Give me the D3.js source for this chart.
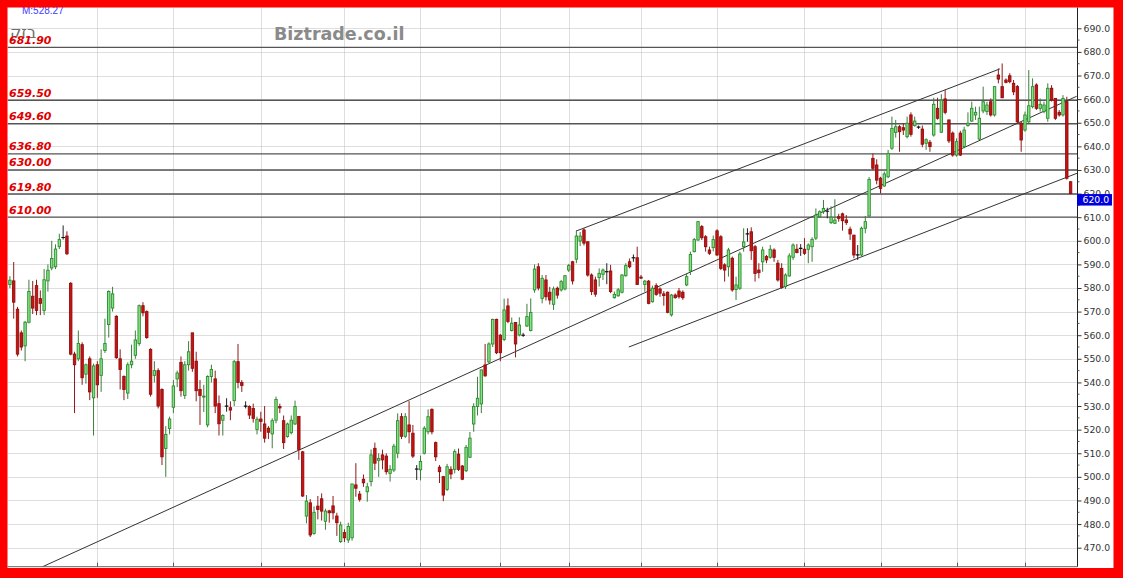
<!DOCTYPE html>
<html><head><meta charset="utf-8">
<script src="https://cdn.jsdelivr.net/npm/d3@7"></script>
<style>html,body{margin:0;padding:0;background:#fff;overflow:hidden}</style>
</head><body><svg id="c" width="1123" height="578"></svg>
<script>
// ---------- DATA ----------
const opens=[
581.5,583,571,561,555.5,565.5,576.5,581,575.5,570.5,
583,588.5,589,597.5,601.4,602,582,552,550,556,
543.5,550,533.5,547.5,543,553.5,564.5,571.5,568,550,
542.5,535.5,547.5,551.5,556.5,572.5,570,554,543,545,
537,512,520.5,529.5,541.5,548.5,534.5,547.5,561,549,
537,533.8,522,542.5,541.5,531,524,530,529.3,532.3,
548.8,540,530,529.8,529,520.1,524.5,522.4,520.6,518.2,
524,529.8,523.8,517.1,518.7,522.4,525.6,510.6,483.4,489,
476,487.6,490.7,481.2,485.6,487.7,483.4,472.6,476.4,473.3,
474.2,496.6,492.7,499,493.7,498,512.1,507,509.3,508.8,
501.5,502.9,510,525.5,517.2,522,518.5,503.3,503,510,
519.1,528.6,514.5,504.1,500.1,494.7,503.2,503.2,509.6,504.6,
502.6,508.3,522.4,529.8,530.9,547.4,548.7,556.3,566.7,560,
558.2,572.4,562,565.4,560.1,560,563.9,562,579.2,589,
575.6,583.4,578.2,573.1,579.9,579.2,579.6,587.6,591.1,592.2,
599.9,604.6,599.6,585.5,583.4,584.4,585.8,586.9,587.2,575.9,
576.7,578.2,585.2,591.1,592.8,592.8,584.6,581.5,582.9,574.2,
581,579.6,577.5,578.2,568.6,577,578.7,578.2,581.3,587.2,
595.4,600.3,606,601.7,596.1,597.1,604.2,601.7,589.8,589,
592.6,579.4,579.9,597.5,602.9,603.8,597.5,587.6,591.1,593.3,
593,596.1,590.5,588.3,580.6,585.1,593,596.4,596.8,596.4,
596.4,597.5,601.1,610.2,612.3,612.5,607.7,607.4,610.2,611.4,
608.8,604.9,602.4,594,594,605.3,610.5,634.9,632.1,626.5,
623.2,627.1,639.2,645.9,648.3,647.9,644.1,653.3,648.8,648.1,
647.3,641.3,641.7,644.8,656.1,646,660.1,651.2,645.6,636.3,
645.6,639.9,648.8,650.7,653.3,643.1,655,654.7,658.9,653.3,
670.2,665.3,668.1,669.9,666.7,665.3,649.8,646.9,650.4,656.8,
666,656.1,654.7,651.9,664.6,660.3,654.4,653.3,658.9,625];
const highs=[
585,591,572,562,566,583.5,583,583.5,579,588,
590,600,598.5,603,606.5,604,582.5,553,562,557,
548,551,548,549,554,567,579,580.5,568.5,554,
543,548.5,556,562,573,574,570.5,554.5,549,546,
537.5,521.5,525.5,541,545,551,549,557.5,561,553,
541,539,543,547.5,545,534.5,526.5,533.3,532,549.5,
556.3,541,532,530.3,531,525.5,527.6,530,521.5,524.8,
534,531,526,523,526,532.3,525.8,511,492.3,490.6,
487.5,491.9,493,486.5,486,491.9,484.8,481,477.8,480.6,
497,505.8,494,501,497.5,511.6,514.5,510,511.5,510,
505,514,526.9,527,527,532.1,522,505,509,521.5,
528.6,529,515,505,500.4,505.5,504.5,511.7,512,505,
513.5,519,531.2,542.4,545.5,556.3,557,567,567,560.5,
575.5,575.6,567.5,565.5,567.6,561,573.3,575.6,590,590.5,
585.5,585.5,580.5,580.6,580.6,583.4,585.5,590.2,591.5,604.2,
603.7,605.3,599.6,586.2,584.8,588.3,588.3,590.5,589.8,578.5,
580,585.8,590.5,592.5,594.2,597.5,585.5,583.4,583.4,581,
582,580.3,578.7,578.5,577.5,577.7,580,579,586.2,595.4,
601.2,608.4,606.7,602.4,597.5,602.2,604.9,602.4,590.5,597,
593.3,584.8,595.4,605.3,605.3,605.7,598.2,590.5,597.5,594,
598.2,596.8,591.9,590.5,586.2,594.7,598.9,598.6,598.6,601.1,
598.9,601.5,613.7,612.9,617.3,614,614.6,617.6,611.4,611.9,
610.9,606,602.4,598.2,606,610.5,627,637,634.5,627.1,
629.3,638.5,652.6,651.2,649,649.8,652.6,654.4,652.6,648.8,
648.8,643.4,642.7,660.6,660.6,662.1,663.9,651.2,646.3,643.4,
646.6,648.3,654.4,658.9,656.8,656.8,665.3,658.9,660.3,665.5,
673,675.1,668.8,671,668.1,666,650.4,654.7,672.3,668.8,
666.7,660.3,658.9,666.7,665.9,660.3,655.4,661.7,661,625.3];
const lows=[
580,567,551,553.5,549,565,569,568.5,568.5,568.5,
578.5,587.5,588,596.5,600.5,594,551.5,527,549,539,
539.5,532.5,517.5,533.5,536,552.5,559,570,550,537,
532.5,533,546,550,555.5,568,558.5,534,540,529,
505,500,518,527,538,534,533,545,544.5,532,
522,527.5,521,540,527,517.5,517.5,527.6,524,530,
537.5,536,529,524.5,523,518,519.1,514.5,516,512.1,
522.7,527,511.8,516.6,518,522,507.2,491.5,480.3,474.5,
475.5,482,481.5,477.6,480.6,482,475,472,472.4,472,
473,491.6,489.5,495.8,489.5,496,502.9,500,503.2,501,
498,502,507.9,516,516.5,514.2,508,498.7,498.5,509.5,
518,518,506.7,497.4,489.7,494,499,501.5,502.5,498.6,
502,508,519.1,526,527,542.4,548,555,552,549,
557.5,565.1,561.6,550.6,559.5,559.3,563.5,561.6,578,579,
573.5,574.7,573,570.7,575.5,578.5,579,586.8,581.5,590.5,
597.8,598,584.8,577,576.3,580.6,583.4,581.6,577.8,575.5,
576.3,577.7,584.8,588.3,591.1,581.3,583.8,578.4,573.1,573.8,
576.7,576.3,572.5,569.3,567.9,575.5,575.5,575,580.8,585.5,
595.1,600,600.3,595.4,594,595.5,593.5,587.6,582.7,584.8,
578.4,574.9,579.2,595.4,599.6,591.9,582.7,584.1,586.9,590.5,
592.4,591.1,582.7,579.6,579.6,584.8,591.9,594.7,593.6,594,
590.5,591.1,600.3,610,611.4,609.5,607.1,607.1,608.1,604.3,
606.7,600.3,592.6,591.9,593.5,603.2,610,630,623.9,620.1,
622.9,626.5,638.5,643.7,637.7,644.8,643.4,644.1,648.3,647.4,
639.6,638.5,637.7,644.1,651.3,645.6,653.6,641.4,635.6,635.6,
635.9,639.2,648.3,650.4,651.2,642.7,654,653.3,652.6,652.6,
666.7,660.4,666.7,666.7,661.7,649.6,637.7,646.2,649.8,656.1,
655.4,654.7,654,650.4,659,651.2,652.6,652.6,625.9,620];
const closes=[
583.3,574,552,555,565.5,578.5,571.5,570.5,573.5,583.5,
587.5,592.5,596.5,600.5,601.4,594.5,552,547.5,556.5,542,
547.5,536,547,539,550,556.5,578.5,577.5,550.5,545.5,
537,547.5,549,558,572.5,569.5,559,535,545,530,
508.5,518,524.5,538.5,544,536.5,547.5,553,546,536.5,
534.5,534.2,542.5,545.5,530,522.5,526,530,528.3,548.8,
540,538.7,530,526.2,524.8,524.4,523.5,516.4,518.9,523.8,
532.8,529.2,514.5,522.4,524,529.8,511.6,491.9,489.7,475.4,
485,486.2,485.5,485.5,484.8,484.8,480.6,479.6,474.2,479,
497,495.2,490.5,497.5,495.8,509.3,505.8,507.8,507.2,502.2,
503.2,513,523.8,517.2,525.5,519.1,508.8,503.3,506.5,520.6,
525.5,519.1,508.5,502.2,492.3,504.3,501.2,510.7,503.2,499,
512.5,516.4,529.8,533.3,545.3,542.8,556.3,566.7,552.6,552.6,
570.7,565.8,565.1,556.3,564.3,560,567.9,569.6,588,580,
584.1,576.3,574.9,579.6,577,582.7,585.2,589.5,583,602,
602,599,585.5,578.5,577.4,586.2,587.6,586.9,578.5,577.3,
579.2,585.5,589.5,589,592.8,581.5,584.2,582.9,573.5,579.9,
577.3,577.8,576.8,569.7,577,575.9,576.3,575.9,584.8,594.2,
600.5,608.1,601.3,597.5,594.7,600.5,594,588.3,587.6,596.1,
579.2,581.3,594.4,599.5,602.9,595.8,586.2,586.5,596.1,591.9,
596.4,593,583.4,580.3,585.5,593.6,598.2,595,596.8,594.7,
598.2,600.6,610.9,612.3,613.7,612.5,610,608.8,609.5,608.5,
607.7,602.9,594,594,605.3,608.1,626,630.7,625.7,622.2,
628.3,637,647.6,648.3,646.2,646.9,649.8,645.1,650.7,648.1,
640.9,642.8,639.9,657.8,651.9,659.6,654.4,642.3,636.3,642,
636.3,646.9,649.8,656.1,654.4,651.9,658.9,657.5,653.3,665.3,
668.5,660.6,667.1,667.4,663.1,650.4,642.7,653.3,657.2,665.3,
656.1,657.8,657.5,664.6,659.6,651.9,653.3,660.3,626.5,620];

const levels=[681.9,659.5,649.6,636.8,630.0,619.8,610.0];
const yTicks=d3.range(470,691,10);
const monthStarts=[23,43,66,88,108,129,147,166,186,209,229,249,267];
// trend lines: [candle index, price] endpoints
const trendLines=[
  [[8.4,461.8],[280.6,661.2]],
  [[148.9,604.1],[260.4,672.8]],
  [[162.8,555.0],[280.7,628.6]]
];
const titleText="בזק";
const maText="M:528.27";
const watermark="Biztrade.co.il";

// ---------- DRAW ----------
const W=1123,H=578;
const plot={left:7.5,top:7.5,right:1077,bottom:566.7};
const svg=d3.select("#c");
svg.append("rect").attr("width",W).attr("height",H).attr("fill","#fff");

const n=closes.length;
const x=d3.scaleLinear().domain([0,n-1]).range([9.9,1070.6]);
const y=d3.scaleLinear().domain([470,690]).range([547.7,28.3]);

svg.append("clipPath").attr("id","pc").append("rect")
  .attr("x",plot.left).attr("y",plot.top)
  .attr("width",plot.right-plot.left).attr("height",plot.bottom-plot.top);

const g=svg.append("g").attr("clip-path","url(#pc)");

// grid
g.selectAll(".hg").data(yTicks).join("line")
  .attr("x1",plot.left).attr("x2",plot.right)
  .attr("y1",d=>Math.round(y(d))+0.5).attr("y2",d=>Math.round(y(d))+0.5)
  .attr("stroke","#bdbdbd").attr("stroke-dasharray","1,1");
g.selectAll(".vg").data(monthStarts).join("line")
  .attr("x1",d=>Math.round(x(d))+0.5).attr("x2",d=>Math.round(x(d))+0.5)
  .attr("y1",plot.top).attr("y2",plot.bottom)
  .attr("stroke","#bdbdbd").attr("stroke-dasharray","1,1");
svg.selectAll(".vt").data(monthStarts).join("line")
  .attr("x1",d=>Math.round(x(d))+0.5).attr("x2",d=>Math.round(x(d))+0.5)
  .attr("y1",plot.bottom-4).attr("y2",plot.bottom)
  .attr("stroke","#555");

// level lines
g.selectAll(".lv").data(levels).join("line")
  .attr("x1",plot.left).attr("x2",plot.right)
  .attr("y1",d=>y(d)).attr("y2",d=>y(d))
  .attr("stroke","#555").attr("stroke-width",1.4);

// trend lines
g.selectAll(".tl").data(trendLines).join("line")
  .attr("x1",d=>x(d[0][0])).attr("y1",d=>y(d[0][1]))
  .attr("x2",d=>x(d[1][0])).attr("y2",d=>y(d[1][1]))
  .attr("stroke","#333").attr("stroke-width",1);

// candles
const idx=d3.range(n);
const kind=i=>Math.abs(closes[i]-opens[i])<0.05?"doji":(closes[i]>opens[i]?"up":"down");
const col={up:{fill:"#86e286",stroke:"#2c8c2c",wick:"#3d7d3d"},
           down:{fill:"#cc1111",stroke:"#8e0e0e",wick:"#8e1a1a"},
           doji:{fill:"#111",stroke:"#111",wick:"#222"}};
const cg=g.append("g");
cg.selectAll(".wk").data(idx).join("line")
  .attr("x1",i=>x(i)).attr("x2",i=>x(i))
  .attr("y1",i=>y(highs[i])).attr("y2",i=>y(lows[i]))
  .attr("stroke",i=>col[kind(i)].wick).attr("stroke-width",1);
cg.selectAll(".bd").data(idx.filter(i=>kind(i)!=="doji")).join("rect")
  .attr("x",i=>x(i)-1.2).attr("width",2.4)
  .attr("y",i=>y(Math.max(opens[i],closes[i])))
  .attr("height",i=>Math.max(0.8,Math.abs(y(opens[i])-y(closes[i]))))
  .attr("fill",i=>col[kind(i)].fill).attr("stroke",i=>col[kind(i)].stroke)
  .attr("stroke-width",0.9);
cg.selectAll(".dj").data(idx.filter(i=>kind(i)==="doji")).join("line")
  .attr("x1",i=>x(i)-1.8).attr("x2",i=>x(i)+1.8)
  .attr("y1",i=>y(opens[i])).attr("y2",i=>y(opens[i]))
  .attr("stroke","#111").attr("stroke-width",1.2);

// frame lines
svg.append("line").attr("x1",plot.left).attr("x2",plot.right)
  .attr("y1",plot.bottom).attr("y2",plot.bottom).attr("stroke","#666");
svg.append("line").attr("x1",plot.right+0.5).attr("x2",plot.right+0.5)
  .attr("y1",plot.top).attr("y2",plot.bottom).attr("stroke","#222");

// right axis
const ax=d3.axisRight(y).tickValues(yTicks).tickFormat(d3.format(".1f"))
  .tickSize(4).tickPadding(2);
const axg=svg.append("g").attr("transform",`translate(${plot.right+0.5},0)`).call(ax);
axg.select(".domain").remove();
axg.selectAll("line").attr("stroke","#333");
axg.selectAll("text").attr("font-family","DejaVu Sans").attr("font-size",9.3)
  .attr("fill","#333");
svg.selectAll(".mt").data(d3.range(475,691,10)).join("line")
  .attr("x1",plot.right+0.5).attr("x2",plot.right+2.5)
  .attr("y1",d=>y(d)).attr("y2",d=>y(d)).attr("stroke","#555");

// last price box
const last=closes[n-1];
const by=y(last)+0.5;
svg.append("rect").attr("x",plot.right).attr("y",by).attr("width",35).attr("height",11.5)
  .attr("fill","#0000dd");
svg.append("text").attr("x",plot.right+5.5).attr("y",by+9.3)
  .attr("font-family","DejaVu Sans").attr("font-size",9.3).attr("fill","#fff")
  .text(d3.format(".1f")(last));

// titles
svg.append("text").attr("x",274).attr("y",40).attr("font-family","DejaVu Sans")
  .attr("font-weight","bold").attr("font-size",17.5).attr("fill","#8a8a8a").text(watermark);
svg.append("text").attr("x",10).attr("y",38).attr("font-family","DejaVu Sans")
  .attr("font-size",16).attr("fill","#6f6f6f").text(titleText);
svg.append("text").attr("x",22).attr("y",13.5).attr("font-family","Liberation Sans")
  .attr("font-size",10).attr("fill","#3a3aff").text(maText);

// level labels
svg.selectAll(".ll").data(levels).join("text")
  .attr("x",9).attr("y",d=>y(d)-3.5)
  .attr("font-family","DejaVu Sans").attr("font-weight","bold").attr("font-style","italic")
  .attr("font-size",11).attr("fill","#e00000")
  .text(d=>d3.format(".2f")(d));

// red border
svg.append("path")
  .attr("d",`M0,0H${W}V${H}H0Z M7.5,7.5V568H1113.5V7.5Z`)
  .attr("fill","#ff0000").attr("fill-rule","evenodd");
</script></body></html>
